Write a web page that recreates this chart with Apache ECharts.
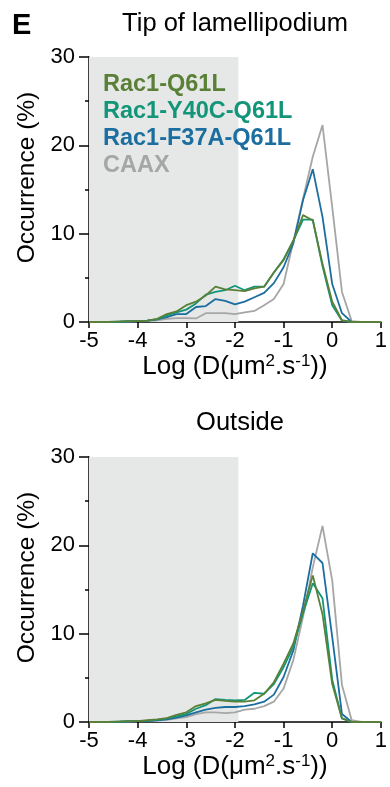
<!DOCTYPE html>
<html>
<head>
<meta charset="utf-8">
<script src="https://cdn.jsdelivr.net/npm/echarts@6/dist/echarts.min.js"></script>
<style>
html,body{margin:0;padding:0;background:#fff;}
#c{width:390px;height:787px;}
</style>
</head>
<body>
<div id="c"></div>
<script>
// ---- data ----
const xs = [-5,-4.8,-4.6,-4.4,-4.2,-4.0,-3.8,-3.6,-3.4,-3.2,-3.0,-2.8,-2.6,-2.4,-2.2,-2.0,-1.8,-1.6,-1.4,-1.2,-1.0,-0.8,-0.6,-0.4,-0.2,0,0.2,0.4,0.6,0.8,1.0];
const seriesNames = ['Rac1-Q61L','Rac1-Y40C-Q61L','Rac1-F37A-Q61L','CAAX'];
const panelTitles = ['Tip of lamellipodium','Outside'];
const xTicks = [-5,-4,-3,-2,-1,0,1];
const yTicks = [0,10,20,30];
const shadeRange = [-5,-1.93];

// Tip of lamellipodium
const tipQ61L = [0,0,0,0.05,0.1,0.1,0.15,0.35,0.9,1.2,1.9,2.3,3.0,4.0,3.7,3.6,3.5,3.8,4.0,5.6,7.0,9.2,12.1,11.5,6.6,2.3,0.2,0,0,0,0];
const tipY40C = [0,0,0,0.05,0.1,0.1,0.15,0.3,0.75,1.1,1.4,2.1,3.1,3.4,3.6,4.1,3.6,4.0,4.0,5.6,7.1,9.2,11.6,11.6,6.3,1.9,0.15,0,0,0,0];
const tipF37A = [0,0,0,0,0.05,0.1,0.15,0.3,0.55,0.9,0.9,1.7,1.8,2.6,2.4,2.0,2.3,2.8,3.3,4.4,6.2,8.9,13.8,17.3,11.9,4.3,1.0,0,0,0,0];
const tipCAAX = [0,0,0,0,0.05,0.1,0.1,0.2,0.35,0.45,0.45,0.4,1.0,1.0,1.0,0.9,1.1,1.25,1.9,2.6,4.3,9.1,14.0,18.7,22.3,13.0,3.4,0.1,0,0,0];

// Outside
const outQ61L = [0,0,0,0.05,0.1,0.1,0.2,0.3,0.45,0.8,1.1,1.8,2.1,2.5,2.4,2.3,2.3,2.45,3.2,4.5,6.6,8.9,12.6,16.6,12.2,4.3,0.4,0,0,0,0];
const outY40C = [0,0,0,0.05,0.1,0.1,0.15,0.25,0.4,0.65,0.9,1.5,1.9,2.6,2.5,2.45,2.5,3.3,3.2,4.3,6.2,8.5,12.3,15.7,14.0,4.8,0.4,0,0,0,0];
const outF37A = [0,0,0,0,0.05,0.1,0.1,0.2,0.3,0.5,0.75,1.1,1.4,1.6,1.7,1.7,1.8,2.0,2.3,3.1,5.1,8.1,13.2,19.1,18.0,9.6,0.9,0,0,0,0];
const outCAAX = [0,0,0,0,0.05,0.1,0.1,0.15,0.25,0.4,0.55,0.9,1.1,1.1,1.0,1.1,1.4,1.5,1.8,2.3,3.8,7.0,11.9,17.5,22.2,16.0,4.2,0.2,0,0,0];

const colors = {'Rac1-Q61L':'#5a8038','Rac1-Y40C-Q61L':'#13957a','Rac1-F37A-Q61L':'#1b6e9f','CAAX':'#a6a6a6'};

const panels = [
  {'Rac1-Q61L':tipQ61L,'Rac1-Y40C-Q61L':tipY40C,'Rac1-F37A-Q61L':tipF37A,'CAAX':tipCAAX},
  {'Rac1-Q61L':outQ61L,'Rac1-Y40C-Q61L':outY40C,'Rac1-F37A-Q61L':outF37A,'CAAX':outCAAX}
];

const FONT = '"Liberation Sans", Arial, Helvetica, sans-serif';
const gridTops = [57, 457];

const grids = gridTops.map(t => ({left: 89, top: t, width: 294, height: 265}));
const xAxes = gridTops.map((t,i) => ({
  type:'value', gridIndex:i, min:xTicks[0], max:xTicks[xTicks.length-1], interval:1,
  axisLine:{show:true, onZero:false, lineStyle:{color:'#000', width:1.5}},
  axisTick:{show:true, length:6, lineStyle:{color:'#000', width:1.5}},
  axisLabel:{fontSize:22, color:'#000', margin:8, fontFamily:FONT},
  splitLine:{show:false},
  name:'Log (D(μm{sup|2}.s{sup|-1}))',
  nameLocation:'middle', nameGap:30,
  nameTextStyle:{fontSize:26, color:'#000', fontFamily:FONT, lineHeight:28,
    rich:{sup:{fontSize:17, color:'#000', fontFamily:FONT, verticalAlign:'top', lineHeight:20}}}
}));
const yAxes = gridTops.map((t,i) => ({
  type:'value', gridIndex:i, min:yTicks[0], max:yTicks[yTicks.length-1], interval:10,
  axisLine:{show:true, onZero:false, lineStyle:{color:'#000', width:1.5}},
  axisTick:{show:true, length:10, lineStyle:{color:'#000', width:1.5}},
  minorTick:{show:true, splitNumber:2, length:4, lineStyle:{color:'#000', width:1.5}},
  axisLabel:{fontSize:22, color:'#000', margin:14, fontFamily:FONT},
  splitLine:{show:false}, minorSplitLine:{show:false},
  name:'Occurrence (%)', nameLocation:'middle', nameGap:46,
  nameTextStyle:{fontSize:24.5, color:'#000', fontFamily:FONT, padding:[0,0,0,24]}
}));

const series = [];
gridTops.forEach((t,i) => {
  series.push({
    type:'line', xAxisIndex:i, yAxisIndex:i, data:[], silent:true, z:1,
    markArea:{silent:true, itemStyle:{color:'#e6e8e7'},
      data:[[{xAxis:shadeRange[0], yAxis:0},{xAxis:shadeRange[1], yAxis:30}]]}
  });
  // draw order: gray, blue, teal, green on top
  ['CAAX','Rac1-F37A-Q61L','Rac1-Y40C-Q61L','Rac1-Q61L'].forEach(n => {
    series.push({
      name:n, type:'line', xAxisIndex:i, yAxisIndex:i, z:2,
      data: xs.map((x,k) => [x, panels[i][n][k]]),
      symbol:'none', smooth:false,
      lineStyle:{color:colors[n], width:1.8},
      itemStyle:{color:colors[n]}
    });
  });
});

const chart = echarts.init(document.getElementById('c'), null, {renderer:'canvas'});
chart.setOption({
  animation:false,
  backgroundColor:'#fff',
  grid:grids, xAxis:xAxes, yAxis:yAxes, series:series,
  title:[
    {text:panelTitles[0], left:230, top:6, textAlign:'center',
     textStyle:{fontSize:25.5, fontWeight:'normal', color:'#000', fontFamily:FONT}},
    {text:panelTitles[1], left:235, top:405, textAlign:'center',
     textStyle:{fontSize:25.5, fontWeight:'normal', color:'#000', fontFamily:FONT}},
    {text:'E', left:7, top:6,
     textStyle:{fontSize:29, fontWeight:'bold', color:'#000', fontFamily:FONT}}
  ],
  legend:{
    orient:'vertical', left:93, top:68, itemWidth:0, itemHeight:0, itemGap:3,
    icon:'rect', selectedMode:false,
    data: seriesNames.map(n => ({name:n, textStyle:{color:colors[n]}})),
    textStyle:{fontSize:23.5, fontWeight:'bold', fontFamily:FONT, lineHeight:24}
  }
});
</script>
</body>
</html>
